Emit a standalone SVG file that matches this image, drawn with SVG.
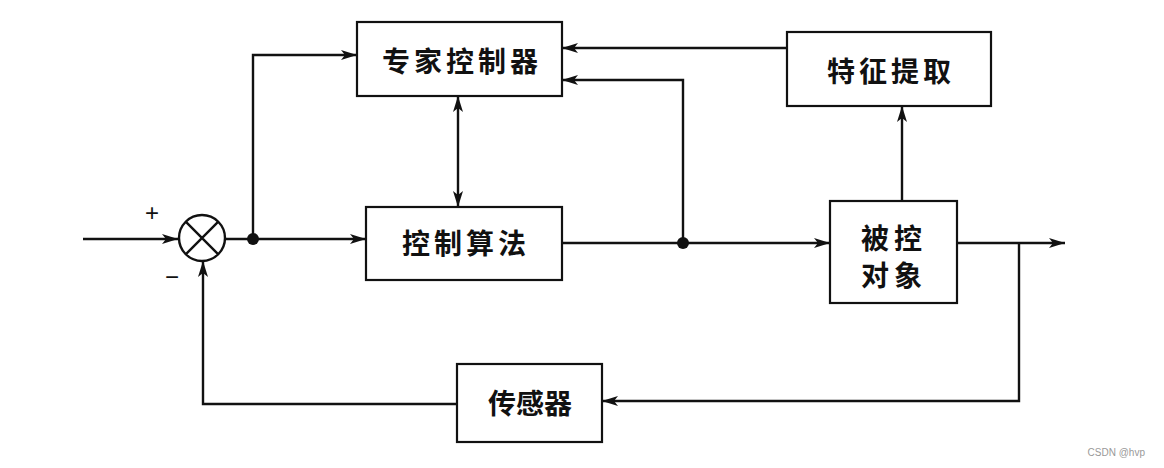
<svg xmlns="http://www.w3.org/2000/svg" width="1164" height="468" viewBox="0 0 1164 468">
<style>
.box{fill:#fff;stroke:#111;stroke-width:2.2}
.ln{fill:none;stroke:#111;stroke-width:2.4}
.t{font-family:"Noto Sans CJK SC","Noto Sans",sans-serif;font-size:28px;font-weight:700;fill:#111;text-anchor:middle;dominant-baseline:central}
.sg{font-family:"Liberation Sans",sans-serif;font-size:24px;fill:#111;text-anchor:middle}
</style>
<defs>
<marker id="ah" viewBox="0 0 16 10" refX="16" refY="5" markerWidth="16" markerHeight="10" markerUnits="userSpaceOnUse" orient="auto-start-reverse">
<path d="M0,0 L16,5 L0,10 L4,5 z" fill="#111"/>
</marker>
</defs>
<rect width="1164" height="468" fill="#fff"/>
<g id="connectors">
<path class="ln" d="M83,239 H178" marker-end="url(#ah)"/>
<path class="ln" d="M225,239 H366" marker-end="url(#ah)"/>
<path class="ln" d="M253,239 V55 H357" marker-end="url(#ah)"/>
<path class="ln" d="M458,96 V207" marker-start="url(#ah)" marker-end="url(#ah)"/>
<path class="ln" d="M562,243 H830" marker-end="url(#ah)"/>
<path class="ln" d="M683,243 V80 H562" marker-end="url(#ah)"/>
<path class="ln" d="M787,48 H562" marker-end="url(#ah)"/>
<path class="ln" d="M902,201 V106" marker-end="url(#ah)"/>
<path class="ln" d="M957,243 H1065" marker-end="url(#ah)"/>
<path class="ln" d="M1019,243 V401 H602" marker-end="url(#ah)"/>
<path class="ln" d="M457,404 H203 V261" marker-end="url(#ah)"/>
<circle cx="253" cy="239" r="6" fill="#111"/>
<circle cx="683" cy="243" r="6" fill="#111"/>
</g>
<g id="sum">
<circle cx="202" cy="238" r="23" fill="#fff" stroke="#111" stroke-width="2.4"/>
<path class="ln" d="M185.7,221.7 L218.3,254.3 M218.3,221.7 L185.7,254.3"/>
<text class="sg" x="152" y="221">+</text>
<text class="sg" x="172" y="285">−</text>
</g>
<g id="expert">
<rect class="box" x="357" y="22" width="205" height="74"/>
<text class="t" x="462" y="60" letter-spacing="4">专家控制器</text>
</g>
<g id="feature">
<rect class="box" x="787" y="32" width="204" height="74"/>
<text class="t" x="891" y="70" letter-spacing="4">特征提取</text>
</g>
<g id="algo">
<rect class="box" x="366" y="207" width="196" height="73"/>
<text class="t" x="466" y="242" letter-spacing="4">控制算法</text>
</g>
<g id="plant">
<rect class="box" x="830" y="201" width="127" height="102"/>
<text class="t" x="894" y="237" font-size="26" letter-spacing="5">被控</text>
<text class="t" x="894" y="274" font-size="26" letter-spacing="5">对象</text>
</g>
<g id="sensor">
<rect class="box" x="457" y="364" width="145" height="78"/>
<text class="t" x="530" y="402">传感器</text>
</g>
<text x="1145" y="456" font-family="Liberation Sans,sans-serif" font-size="10" fill="#999" text-anchor="end">CSDN @hvp</text>
</svg>
